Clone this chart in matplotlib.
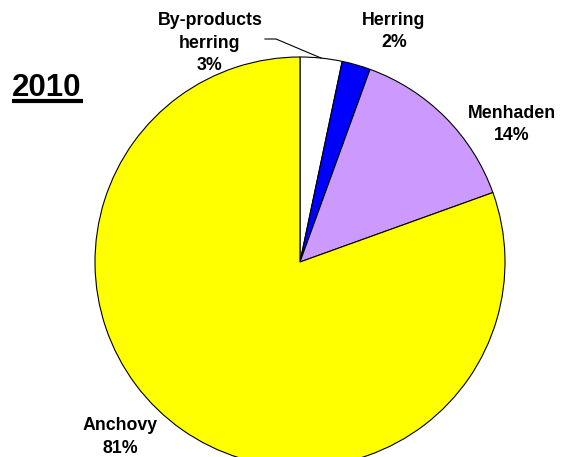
import matplotlib
matplotlib.use("Agg")
import matplotlib.pyplot as plt
import numpy as np

# -------------------- Data --------------------
species = ["By-products\nherring", "Herring", "Menhaden", "Anchovy"]
shares = [3.3, 2.25, 13.95, 80.5]      # slice sizes as drawn
pct_labels = ["3%", "2%", "14%", "81%"]  # rounded values as printed
colors = ["#FFFFFF", "#0000FF", "#CC99FF", "#FFFF00"]
title = "2010"

# -------------------- Layout (pixel space, y up) --------------------
W, H = 573, 457
center = (300, H - 262)
radius = 205
label_pos = [(210, H - 43), (394, H - 31.5), (512, H - 124.5), (120, H - 437)]

plt.rcParams["font.family"] = ["Liberation Sans", "DejaVu Sans"]

fig = plt.figure(figsize=(W / 100, H / 100), dpi=100)
ax = fig.add_axes([0, 0, 1, 1])

wedges, _ = ax.pie(shares, colors=colors, startangle=90, counterclock=False,
                   center=center, radius=radius,
                   wedgeprops=dict(edgecolor="black", linewidth=0.8))

# pie() resets the limits, so set them afterwards
ax.set_xlim(0, W)
ax.set_ylim(0, H)
ax.set_aspect("equal")
ax.axis("off")

for name, pct, (x, y) in zip(species, pct_labels, label_pos):
    ax.text(x, y, f"{name}\n{pct}", ha="center", va="center",
            fontsize=12.8, fontweight="bold", linespacing=1.45)

# leader line for the small white slice
mid = np.deg2rad(90 - shares[0] * 3.6 / 2)
tip = (center[0] + radius * np.cos(mid), center[1] + radius * np.sin(mid))
ax.plot([265, 276, tip[0]], [H - 39, H - 39, tip[1]], color="black", lw=0.8)

ax.text(12, H - 96, title, fontsize=22.5, fontweight="bold", ha="left", va="baseline")
ax.plot([12, 83], [H - 101, H - 101], color="black", lw=3, solid_capstyle="butt")

fig.savefig("out.png", dpi=100)
